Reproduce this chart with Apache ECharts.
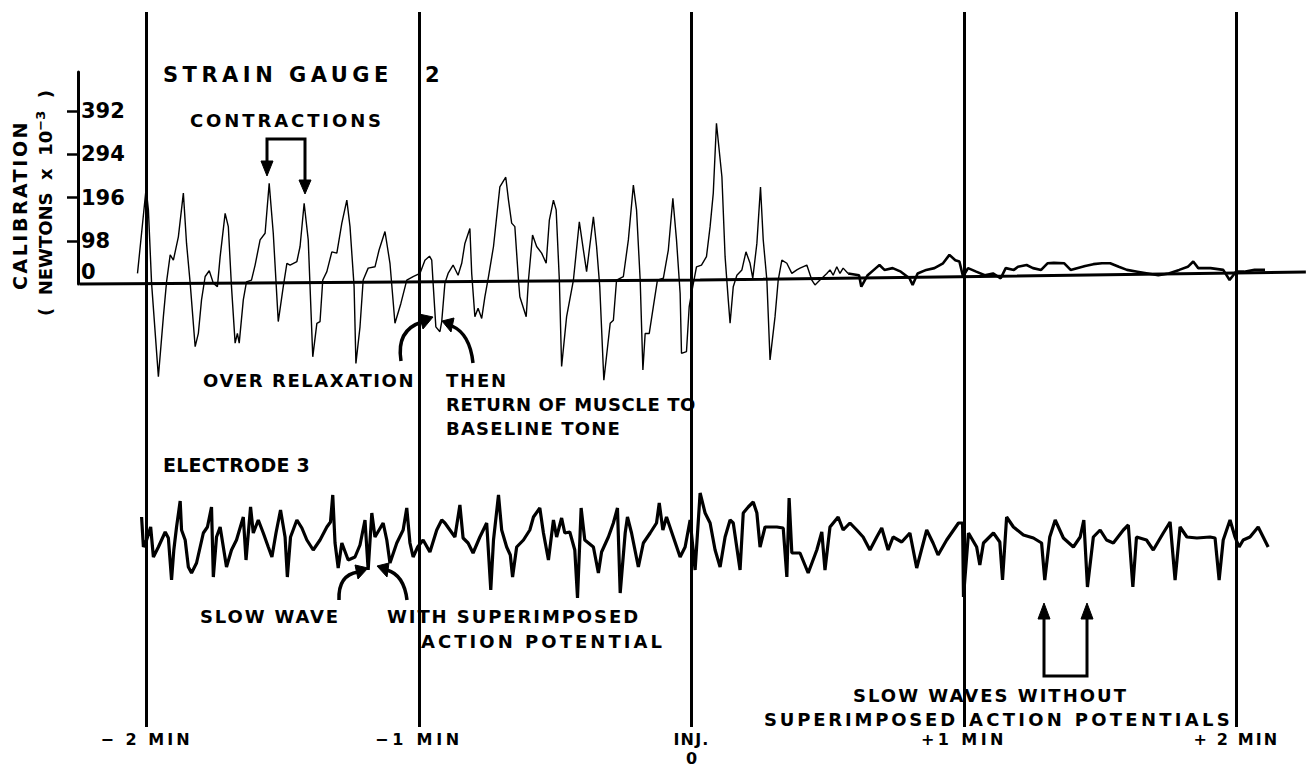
<!DOCTYPE html>
<html>
<head>
<meta charset="utf-8">
<script src="https://cdn.jsdelivr.net/npm/echarts@6/dist/echarts.min.js"></script>
<style>
html,body{margin:0;padding:0;background:#fff;}
#chart{width:1306px;height:780px;}
</style>
</head>
<body>
<div id="chart"></div>
<script>
// ---- data (time in seconds from injection; force in newtons x 10^-3; electrode in relative units) ----
const minuteMarks = [-120, -60, 0, 60, 120];
const minuteLabels = ['− 2 MIN', '−1 MIN', 'INJ.\n0', '+1 MIN', '+ 2 MIN'];
const calibrationLabels = [0, 98, 196, 294, 392];
const calibrationTicks = [98, 196, 294, 392];
const baselineTrace = [[-134.7, 0], [1.9, 9], [135.3, 27]];

const strainContractions = [
[-122.0,24],[-120.1,217],[-119.6,168],[-118.9,2],[-117.4,-210],[-116.3,-74],[-115.6,5],[-114.8,66],[-114.1,54],[-113.0,107],
[-111.9,206],[-111.2,92],[-110.4,2],[-109.3,-142],[-108.6,-112],[-107.9,-36],[-107.1,17],[-106.2,30],[-105.3,2],[-104.4,-6],
[-103.8,62],[-102.7,160],[-102.0,130],[-101.3,-6],[-100.5,-134],[-100.0,-112],[-99.6,-134],[-98.7,-36],[-98.0,5],[-96.9,9],
[-96.1,43],[-95.0,100],[-93.9,115],[-93.0,228],[-92.1,115],[-91.0,-85],[-89.9,-6],[-89.1,47],[-88.4,43],[-86.9,51],
[-86.2,85],[-85.3,183],[-84.4,100],[-83.4,-165],[-82.5,-89],[-81.8,-85],[-81.2,9],[-80.3,28],[-79.2,73],[-78.1,70],
[-77.0,138],[-75.9,190],[-75.2,130],[-74.3,-6],[-73.9,-180],[-73.0,-97],[-72.3,9],[-71.2,36],[-69.7,39],[-68.8,77],
[-67.5,119],[-66.4,47],[-65.3,-89],[-64.0,-44],[-62.7,9],[-61.3,17],[-59.8,24],[-58.7,54],[-57.7,63],[-57.2,54],
[-56.9,2],[-56.3,-97],[-55.4,-108],[-55.0,-85],[-54.3,2],[-53.6,24],[-52.5,43],[-51.4,20],[-50.6,47],[-49.9,92],
[-48.8,126],[-48.4,24],[-47.7,-74],[-47.0,-55],[-46.2,-78],[-45.5,-29],[-44.7,17],[-43.6,85],[-42.2,220],[-40.9,242],
[-40.3,190],[-39.6,138],[-38.9,130],[-38.1,9],[-37.8,-29],[-36.4,-74],[-35.9,9],[-35.0,111],[-34.1,85],[-33.0,70],
[-32.0,47],[-31.3,145],[-30.4,190],[-29.8,168],[-29.1,9],[-28.6,-187],[-27.5,-74],[-26.0,9],[-24.7,141],[-23.8,77],
[-23.1,28],[-21.6,152],[-20.9,85],[-20.2,-6],[-19.3,-218],[-17.9,-89],[-17.2,-82],[-16.5,9],[-15.0,17],[-13.9,100],
[-12.8,224],[-12.1,168],[-11.3,9],[-10.7,-195],[-10.2,-112],[-9.3,-112],[-8.4,-51],[-7.5,9],[-6.2,13],[-5.1,77],
[-4.1,194],[-3.3,100],[-2.5,-21],[-2.2,-157],[-1.1,-153],[-0.5,-51],[0.0,-21],[1.1,39],[2.2,43],[3.3,62],
[4.1,130],[4.8,206],[5.5,364],[6.7,243],[7.4,62],[8.1,-36],[8.5,-89],[9.2,-6],[10.0,20],[11.1,32],
[12.0,73],[12.9,47],[13.5,13],[14.4,92],[15.2,220],[15.8,100],[16.6,9],[17.3,-172],[18.4,-74],[19.1,9],
[19.9,54],[21.0,47],[22.1,24],[23.2,32],[23.9,36],[25.4,43],[26.5,9],[27.2,-2],[28.3,9],[29.8,24],
[30.5,32],[31.2,20],[32.0,39],[32.7,24],[33.4,36],[34.5,24]
];

const strainAfterInjection = [
[34.5,24],[36.9,20],[37.4,-6],[38.8,20],[40.6,36],[41.4,43],[42.5,32],[44.3,36],[46.1,28],[48.0,13],
[48.7,-2],[49.8,24],[51.7,32],[53.5,36],[55.4,47],[56.8,66],[58.1,54],[59.0,51],[59.8,17],[60.9,36],
[62.7,28],[64.6,20],[66.4,24],[68.1,13],[69.2,36],[71.0,32],[71.9,39],[73.8,43],[75.2,36],[77.0,32],
[78.4,47],[79.8,48],[82.1,47],[83.5,32],[84.9,36],[86.7,41],[88.5,45],[90.4,47],[92.2,47],[94.1,39],
[95.9,32],[98.2,28],[100.5,24],[102.8,20],[105.1,24],[107.4,32],[109.3,39],[110.5,51],[111.6,36],[114.3,36],
[117.1,32],[118.5,9],[119.9,28],[121.7,28],[124.0,32],[126.3,32]
];

const electrodeTrace = [
[-121.1,28],[-120.7,-2],[-120.0,5],[-119.1,18],[-118.5,-12],[-117.4,-2],[-115.9,13],[-115.2,7],[-114.5,-35],[-114.0,-5],
[-113.4,18],[-112.6,44],[-112.3,15],[-111.5,5],[-110.8,-22],[-110.1,-28],[-109.0,-18],[-107.5,12],[-106.6,18],[-105.7,38],
[-105.3,-32],[-104.6,8],[-103.8,18],[-102.4,-22],[-101.3,-5],[-100.2,5],[-98.7,28],[-98.1,-15],[-97.1,38],[-96.5,12],
[-95.4,25],[-94.3,12],[-93.2,-2],[-92.4,-12],[-91.5,12],[-90.5,35],[-89.5,8],[-89.0,-32],[-88.3,8],[-86.9,25],
[-85.8,17],[-84.7,5],[-83.3,-5],[-81.8,5],[-80.3,18],[-79.5,23],[-79.0,50],[-78.5,2],[-77.8,-23],[-77.0,2],
[-75.6,-15],[-74.1,-12],[-73.0,0],[-71.9,25],[-71.2,-25],[-70.4,32],[-69.7,8],[-67.9,22],[-67.1,5],[-66.4,-18],
[-64.9,2],[-63.5,15],[-62.7,37],[-62.0,2],[-61.3,-12],[-60.3,-2],[-59.1,5],[-57.6,-7],[-56.1,15],[-55.0,25],
[-54.3,22],[-53.2,15],[-52.1,8],[-51.0,40],[-50.3,7],[-49.2,2],[-48.1,-8],[-46.6,8],[-45.1,22],[-44.2,-45],
[-43.6,5],[-42.5,50],[-41.8,15],[-40.7,-2],[-39.9,-10],[-39.4,-32],[-38.5,-2],[-37.0,5],[-35.6,15],[-34.8,28],
[-33.4,37],[-32.6,12],[-31.5,-15],[-30.4,25],[-29.7,8],[-28.6,27],[-27.9,12],[-26.8,13],[-25.7,-5],[-25.1,-53],
[-24.3,37],[-23.5,5],[-21.6,-2],[-20.5,-28],[-19.8,-7],[-18.3,8],[-17.2,22],[-16.3,37],[-15.7,-48],[-14.6,12],
[-14.1,28],[-13.2,12],[-11.7,-22],[-10.6,2],[-9.1,12],[-7.7,22],[-7.1,42],[-6.3,15],[-5.5,28],[-4.0,8],
[-2.5,-12],[-1.4,-2],[-0.3,25],[0.8,-25],[1.9,52],[3.0,32],[4.1,22],[5.2,-5],[6.3,-22],[7.4,8],
[8.5,25],[9.2,22],[10.7,-25],[11.4,32],[12.5,38],[13.6,43],[14.4,32],[15.1,-2],[16.2,18],[18.8,18],
[20.2,17],[21.0,-32],[21.5,47],[22.1,-8],[23.9,-8],[25.7,-28],[27.6,-5],[28.7,13],[29.4,-25],[30.5,18],
[32.3,28],[33.4,15],[34.9,22],[36.4,15],[37.8,8],[39.3,-5],[40.8,8],[41.9,17],[43.3,-5],[44.4,8],
[46.3,3],[48.1,12],[49.6,-23],[51.8,15],[53.2,2],[54.3,-10],[56.2,5],[58.8,22],[59.7,22],[59.9,-52],
[61.0,12],[62.8,-2],[63.5,-20],[64.3,2],[66.5,12],[67.9,3],[68.5,-35],[69.4,28],[70.9,18],[73.1,10],
[75.3,7],[77.1,2],[77.8,-35],[78.9,8],[80.1,25],[81.9,7],[84.1,-2],[85.6,8],[86.4,25],[87.2,-42],
[88.5,8],[90.0,15],[91.4,5],[92.9,2],[95.1,15],[96.2,20],[97.2,-42],[98.0,8],[100.2,5],[101.7,-5],
[103.9,12],[105.4,23],[106.5,-35],[107.6,18],[109.1,8],[111.3,7],[114.2,8],[115.3,7],[116.2,-35],[117.1,5],
[118.6,25],[119.7,8],[120.6,-2],[121.5,5],[123.0,8],[124.8,18],[125.9,8],[127.0,-2]
];

// ---- layout / style ----
const FONT = '"DejaVu Sans", sans-serif';
const BLACK = '#000';

const annotations = [
  {t: 'STRAIN GAUGE', x: 163, y: 75, size: 21, w: 230},
  {t: '2', x: 425, y: 75, size: 21},
  {t: 'CONTRACTIONS', x: 190, y: 120, size: 18, w: 194},
  {t: 'OVER RELAXATION', x: 203, y: 380, size: 18, w: 212},
  {t: 'THEN', x: 446, y: 380, size: 18, w: 62},
  {t: 'RETURN OF MUSCLE TO', x: 446, y: 404, size: 18, w: 250},
  {t: 'BASELINE TONE', x: 446, y: 428, size: 18, w: 175},
  {t: 'ELECTRODE 3', x: 163, y: 465, size: 19, w: 147},
  {t: 'SLOW WAVE', x: 200, y: 616, size: 18, w: 140},
  {t: 'WITH SUPERIMPOSED', x: 387, y: 616, size: 18, w: 253},
  {t: 'ACTION POTENTIAL', x: 421, y: 641, size: 18, w: 244},
  {t: 'SLOW WAVES WITHOUT', x: 853, y: 695, size: 18, w: 275},
  {t: 'SUPERIMPOSED', x: 764, y: 719, size: 18, w: 194},
  {t: 'ACTION POTENTIALS', x: 969, y: 719, size: 18, w: 264}
];
const targetWidths = {'CALIBRATION': 170, '− 2 MIN': 92, '−1 MIN': 88, '+1 MIN': 86, '+ 2 MIN': 86, 'INJ.': 36};
annotations.forEach(a => { if (a.w) targetWidths[a.t] = a.w; });

function txt(a) {
  const f = 'bold ' + a.size + 'px ' + FONT;
  return {
    type: 'text', x: a.x, y: a.y, z: 50,
    style: {text: a.t, font: f, fill: BLACK, textFill: BLACK, align: 'left', textAlign: 'left',
            verticalAlign: 'middle', textVerticalAlign: 'middle'}
  };
}
function poly(points) {
  return {type: 'polyline', z: 50, shape: {points: points}, style: {stroke: BLACK, lineWidth: 3, fill: null}};
}
function head(points) {
  return {type: 'polygon', z: 50, shape: {points: points}, style: {fill: BLACK, stroke: BLACK, lineWidth: 1}};
}
function curve(x1, y1, cx, cy, x2, y2) {
  return {type: 'bezierCurve', z: 50, shape: {x1: x1, y1: y1, cpx1: cx, cpy1: cy, x2: x2, y2: y2},
          style: {stroke: BLACK, lineWidth: 3.5, fill: null}};
}

const graphics = annotations.map(txt).concat([
  // contractions bracket
  poly([[267, 163], [267, 139], [305, 139], [305, 181]]),
  head([[261, 161], [273, 161], [267, 176]]),
  head([[299, 180], [311, 180], [305, 194]]),
  // slow waves without bracket
  poly([[1044, 617], [1044, 676], [1087, 676], [1087, 617]]),
  head([[1038, 619], [1050, 619], [1044, 603]]),
  head([[1081, 619], [1093, 619], [1087, 603]]),
  // curved arrows
  curve(401, 361, 396, 330, 422, 322),
  head([[433, 317], [419, 314], [423, 329]]),
  curve(473, 363, 470, 334, 452, 326),
  head([[442, 321], [454, 318], [451, 332]]),
  curve(339, 600, 338, 575, 358, 572),
  head([[368, 568], [355, 565], [358, 579]]),
  curve(407, 600, 404, 575, 387, 570),
  head([[377, 566], [389, 563], [387, 577]]),
  // y-axis title
  {type: 'text', x: 20, y: 205, rotation: Math.PI / 2, z: 50,
   style: {text: 'CALIBRATION', font: 'bold 19px ' + FONT, fill: BLACK, textFill: BLACK,
           align: 'center', textAlign: 'center', verticalAlign: 'middle', textVerticalAlign: 'middle'}},
  {type: 'text', x: 45, y: 203, rotation: Math.PI / 2, z: 50,
   style: {text: '(  NEWTONS  x  10{sup|−3}  )', font: 'bold 18px ' + FONT, fill: BLACK, textFill: BLACK,
           align: 'center', textAlign: 'center', verticalAlign: 'middle', textVerticalAlign: 'middle',
           rich: {sup: {font: 'bold 13px ' + FONT, fontSize: 13, fontWeight: 'bold', fontFamily: FONT,
                        fill: BLACK, textFill: BLACK, padding: [0, 0, 10, 0]}}}}
]);

const chart = echarts.init(document.getElementById('chart'), null, {renderer: 'svg'});
chart.setOption({
  animation: false,
  backgroundColor: '#fff',
  grid: [
    {left: 0, right: 0, top: 12, bottom: 53},
    {left: 78, top: 72, width: 40, height: 212}
  ],
  xAxis: [
    {gridIndex: 0, type: 'value', min: -152.28, max: 135.33,
     axisLine: {show: false}, axisTick: {show: false}, splitLine: {show: false},
     axisLabel: {customValues: minuteMarks, margin: 3, color: BLACK, fontSize: 16, fontWeight: 'bold',
                 fontFamily: FONT, lineHeight: 19,
                 formatter: v => minuteLabels[minuteMarks.indexOf(v)] || ''}},
    {gridIndex: 1, type: 'value', min: 0, max: 1, show: false}
  ],
  yAxis: [
    {gridIndex: 0, type: 'value', min: -1003.8, max: 616.4, show: false},
    {gridIndex: 0, type: 'value', min: -182, max: 533, show: false},
    {gridIndex: 1, type: 'value', min: 0, max: 480.4, position: 'left',
     axisLine: {show: true, onZero: false, lineStyle: {color: BLACK, width: 3}},
     axisTick: {show: true, inside: false, length: 11, customValues: calibrationTicks,
                lineStyle: {color: BLACK, width: 2.5}},
     splitLine: {show: false},
     axisLabel: {inside: true, customValues: calibrationLabels, margin: 3, color: BLACK, fontSize: 21,
                 fontWeight: 'bold', fontFamily: FONT,
                 formatter: v => v === 0 ? '{z|0}' : String(v),
                 rich: {z: {fontSize: 21, fontWeight: 'bold', fontFamily: FONT, color: BLACK, padding: [0, 0, 24, 0]}}}}
  ],
  series: [
    {name: 'Baseline', type: 'line', xAxisIndex: 0, yAxisIndex: 0, data: baselineTrace,
     symbol: 'none', silent: true, lineStyle: {color: BLACK, width: 3},
     markLine: {symbol: ['none', 'none'], silent: true, label: {show: false},
                lineStyle: {color: BLACK, width: 3, type: 'solid'},
                data: minuteMarks.map(v => ({xAxis: v}))}},
    {name: 'Strain gauge 2', type: 'line', xAxisIndex: 0, yAxisIndex: 0, data: strainContractions,
     symbol: 'none', silent: true, lineStyle: {color: BLACK, width: 1.4}},
    {name: 'Strain gauge 2 (after injection)', type: 'line', xAxisIndex: 0, yAxisIndex: 0, data: strainAfterInjection,
     symbol: 'none', silent: true, lineStyle: {color: BLACK, width: 2.6}},
    {name: 'Electrode 3', type: 'line', xAxisIndex: 0, yAxisIndex: 1, data: electrodeTrace,
     symbol: 'none', silent: true, lineStyle: {color: BLACK, width: 3.2}}
  ],
  graphic: graphics
});

function applySpacing() {
  document.querySelectorAll('#chart svg text').forEach(el => {
    const w = targetWidths[el.textContent];
    if (!w) return;
    el.removeAttribute('letter-spacing');
    const nat = el.getComputedTextLength();
    const sp = (w - nat) / el.textContent.length;
    el.setAttribute('letter-spacing', sp.toFixed(2));
  });
}
applySpacing();
chart.on('finished', applySpacing);
setTimeout(applySpacing, 30);
</script>
</body>
</html>
